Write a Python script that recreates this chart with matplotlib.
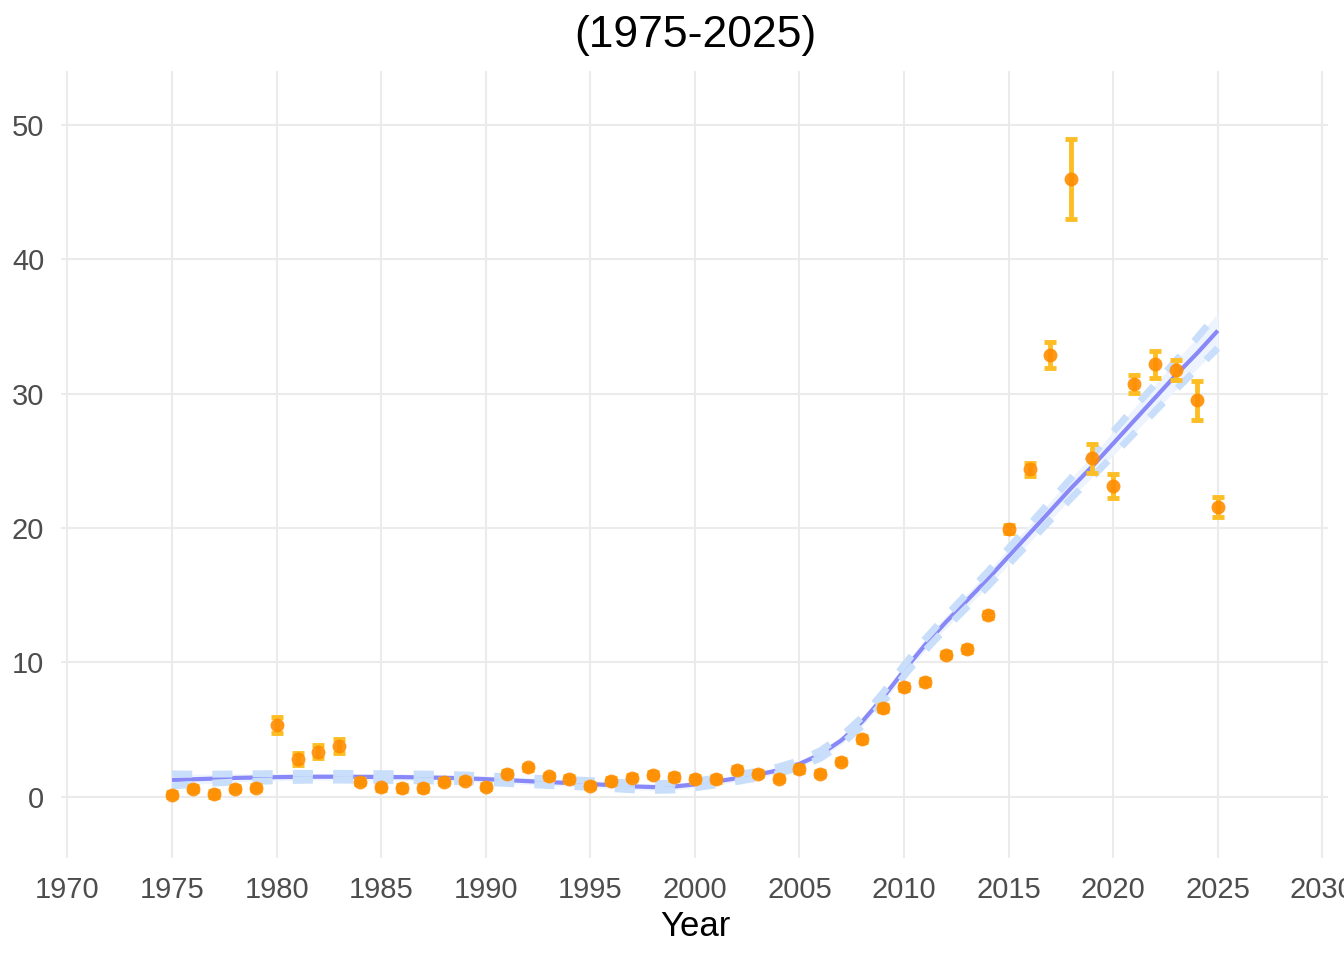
import numpy as np
import matplotlib
matplotlib.use("Agg")
import matplotlib.pyplot as plt

plt.rcParams['font.family'] = ['Liberation Sans', 'DejaVu Sans']

years = list(range(1975, 2026))
values = [0.15, 0.6, 0.2, 0.6, 0.67, 5.37, 2.83, 3.35, 3.78, 1.12,
          0.7, 0.65, 0.65, 1.12, 1.19, 0.75, 1.71, 2.2, 1.53, 1.32,
          0.82, 1.17, 1.42, 1.64, 1.47, 1.32, 1.32, 1.99, 1.71, 1.34,
          2.06, 1.71, 2.61, 4.3, 6.6, 8.17, 8.55, 10.58, 11.0, 13.54,
          19.95, 24.37, 32.86, 46.0, 25.19, 23.12, 30.75, 32.19, 31.77, 29.5,
          21.59]
errors = [0.2, 0.2, 0.2, 0.2, 0.2, 0.6, 0.43, 0.5, 0.55, 0.2,
          0.2, 0.2, 0.2, 0.2, 0.2, 0.2, 0.2, 0.2, 0.2, 0.2,
          0.2, 0.2, 0.2, 0.2, 0.2, 0.2, 0.2, 0.2, 0.2, 0.2,
          0.2, 0.2, 0.2, 0.2, 0.2, 0.2, 0.2, 0.2, 0.2, 0.25,
          0.3, 0.5, 0.97, 3.0, 1.1, 0.88, 0.67, 1.0, 0.77, 1.48,
          0.73]

# smoothed trend and its confidence half-width
trend = [1.25, 1.3, 1.35, 1.4, 1.43, 1.46, 1.48, 1.49, 1.49, 1.48,
         1.47, 1.46, 1.44, 1.41, 1.37, 1.31, 1.24, 1.16, 1.09, 1.02,
         0.95, 0.86, 0.77, 0.72, 0.76, 0.92, 1.13, 1.38, 1.65, 1.97,
         2.45, 3.15, 4.2, 5.6, 7.4, 9.4, 11.3, 13.0, 14.6, 16.2,
         17.9, 19.6, 21.3, 23.0, 24.6, 26.3, 28.0, 29.7, 31.4, 33.0,
         34.7]
trend_se = [0.45, 0.38, 0.33, 0.3, 0.28, 0.27, 0.26, 0.25, 0.25, 0.25,
            0.25, 0.25, 0.25, 0.25, 0.25, 0.25, 0.25, 0.25, 0.25, 0.25,
            0.25, 0.25, 0.25, 0.25, 0.25, 0.25, 0.25, 0.25, 0.25, 0.25,
            0.25, 0.28, 0.3, 0.33, 0.36, 0.4, 0.43, 0.46, 0.5, 0.55,
            0.6, 0.65, 0.7, 0.75, 0.8, 0.88, 0.95, 1.0, 1.08, 1.15,
            1.3]

title = "(1975-2025)"
x_ticks = list(range(1970, 2031, 5))
y_ticks = [0, 10, 20, 30, 40, 50]

W, H = 1344, 960
fig = plt.figure(figsize=(W / 100, H / 100), dpi=100)
ax = fig.add_axes([61 / W, 1 - 858 / H, (1328 - 61) / W, (858 - 71) / H])

yrs = np.array(years)
tr = np.array(trend)
se = np.array(trend_se)

# ribbon + trend lines
ax.fill_between(yrs, tr - se, tr + se, color='#EEF4FD', lw=0, zorder=2)
ax.plot(yrs, tr, color='#8888F8', lw=3, solid_capstyle='butt', zorder=3)
for band in (tr - se, tr + se):
    ax.plot(yrs, band, color='#C9DEFA', lw=5, linestyle=(0, (2.9, 2.9)),
            dash_capstyle='butt', zorder=4)

# observations
ax.errorbar(years, values, yerr=errors, fmt='none', ecolor='#FDBE25',
            elinewidth=3.5, capsize=4, capthick=3.5, zorder=5)
ax.plot(years, values, 'o', color='#FF8C00', alpha=0.9, markersize=10,
        markeredgewidth=0, zorder=6)

ax.set_xlim(1969.69, 2030.27)
ax.set_ylim(-4.56, 54.03)
ax.set_xticks(x_ticks)
ax.set_yticks(y_ticks)
ax.tick_params(length=0, labelsize=21, labelcolor='#4D4D4D')
ax.tick_params(axis='x', pad=13)
ax.tick_params(axis='y', pad=12)
ax.grid(True, color='#EBEBEB', lw=1.5)
ax.set_axisbelow(True)
for s in ax.spines.values():
    s.set_visible(False)

fig.text(695 / W, 1 - 35 / H, title, ha='center', va='center', fontsize=32, color='black')
fig.text(695 / W, 1 - 927 / H, "Year", ha='center', va='center', fontsize=25, color='black')

fig.savefig("out.png", dpi=100)
